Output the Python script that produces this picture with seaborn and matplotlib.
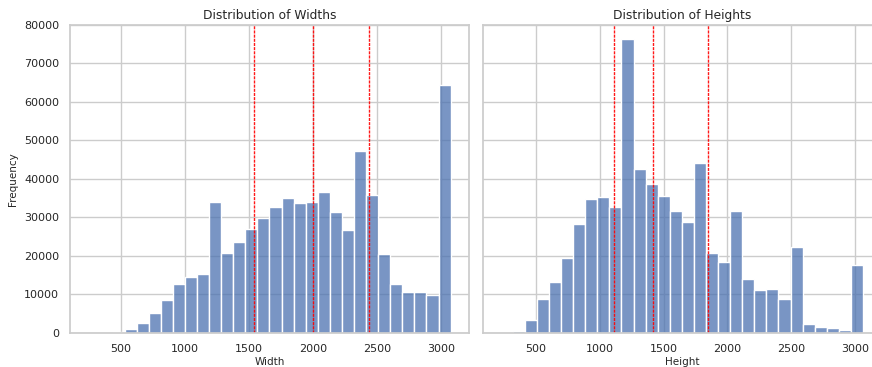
import numpy as np
import matplotlib
matplotlib.use("Agg")
import matplotlib.pyplot as plt
import seaborn as sns

# Histogram counts (30 bins each)
width_range = (245, 3074)
width_counts = [0, 0, 250, 950, 2500, 5000, 8500, 12600, 14600, 15200,
                34100, 20700, 23700, 27000, 29800, 32700, 34900, 33600, 33900, 36600,
                31500, 26600, 47300, 35800, 20500, 12600, 10700, 10500, 9900, 64400]
width_lines = [1540, 2000, 2440]

height_range = (225, 3062)
height_counts = [0, 350, 3300, 8700, 13300, 19500, 28200, 34700, 35400, 32600,
                 76300, 42500, 38600, 35600, 31700, 28700, 44200, 20800, 18400, 31700,
                 13900, 11200, 11400, 8700, 22400, 2200, 1500, 1300, 700, 17600]
height_lines = [1112, 1414, 1850]

sns.set_theme(style="whitegrid")
plt.rcParams['font.family'] = ['DejaVu Sans']

fig = plt.figure(figsize=(8.72, 3.67), dpi=100)
ax1 = fig.add_axes([0.0806, 0.0935, 0.4569, 0.8384])
ax2 = fig.add_axes([0.5535, 0.0935, 0.4569, 0.8384], sharey=ax1)


def draw_hist(ax, counts, binrange, lines, title, xlabel):
    edges = np.linspace(binrange[0], binrange[1], len(counts) + 1)
    centers = (edges[:-1] + edges[1:]) / 2
    sns.histplot(x=centers, weights=counts, bins=len(counts), binrange=binrange,
                 ax=ax, color="#4c72b0", alpha=0.75, edgecolor="white", linewidth=1)
    for v in lines:
        ax.axvline(v, color="red", linewidth=1, dashes=(2.2, 0.8), alpha=0.9)
    ax.set_title(title, fontsize=8.8, pad=4)
    ax.set_xlabel(xlabel, fontsize=7.5, labelpad=2)
    ax.tick_params(labelsize=8, pad=2)


draw_hist(ax1, width_counts, width_range, width_lines, "Distribution of Widths", "Width")
draw_hist(ax2, height_counts, height_range, height_lines, "Distribution of Heights", "Height")

ax1.set_ylim(0, 80000)
ax1.set_ylabel("Frequency", fontsize=7.5)
ax2.set_ylabel("")
ax2.tick_params(labelleft=False)
ax1.set_xticks([500, 1000, 1500, 2000, 2500, 3000])
ax2.set_xticks([500, 1000, 1500, 2000, 2500, 3000])

fig.savefig("out.png", dpi=100)
